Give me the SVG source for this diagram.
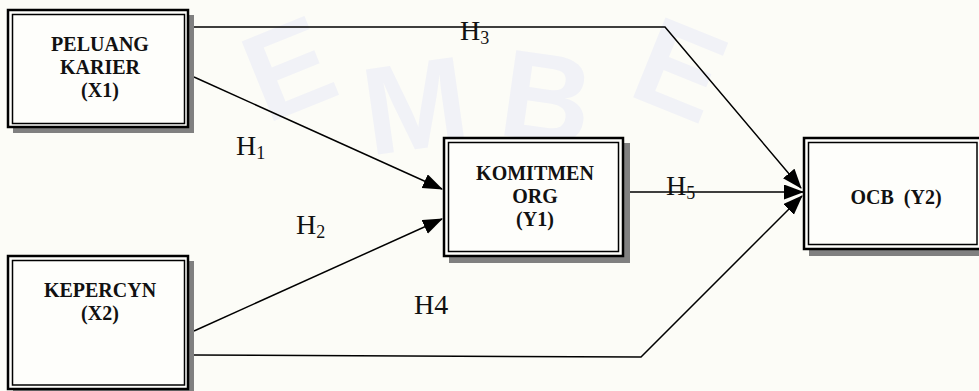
<svg xmlns="http://www.w3.org/2000/svg" width="979" height="391" viewBox="0 0 979 391">
  <style>
    .shadow { fill: #808080; stroke: none; }
    .outer { fill: #fefefb; stroke: #000; stroke-width: 2.5; }
    .inner { fill: none; stroke: #000; stroke-width: 1.5; }
    .lbl { font-family: "Liberation Serif", "Times New Roman", serif; font-weight: bold; font-size: 20px; fill: #111; text-anchor: middle; }
    .h { font-family: "Liberation Serif", "Times New Roman", serif; font-size: 28px; fill: #111; }
    .sub { font-size: 18px; }
    .conn { fill: none; stroke: #000; stroke-width: 1.5; marker-end: url(#arrow); }
    .wm { font-family: "Liberation Sans", Arial, sans-serif; font-weight: bold; font-size: 125px; fill: #f1f2f7; text-anchor: middle; }
  </style>
  <defs>
    <marker id="arrow" markerUnits="userSpaceOnUse" markerWidth="20" markerHeight="16" refX="19" refY="7.5" orient="auto">
      <path d="M0,0 L20,7.5 L0,15 z" fill="#000"/>
    </marker>
  </defs>

  <rect x="0" y="0" width="979" height="391" fill="#fcfcf7"/>

  <g id="watermark">
    <text class="wm" x="288" y="112" transform="rotate(-22 288 67)">E</text>
    <text class="wm" x="415" y="149" transform="rotate(-8 415 104)">M</text>
    <text class="wm" x="547" y="141" transform="rotate(8 547 96)">B</text>
    <text class="wm" x="681" y="113" transform="rotate(22 681 68)">E</text>
  </g>

  <g id="connectors">
    <polyline class="conn" points="194,27 665,27 801,188"/>
    <line class="conn" x1="194" y1="77" x2="442" y2="189"/>
    <line class="conn" x1="194" y1="331" x2="442" y2="219"/>
    <line class="conn" x1="630" y1="192" x2="803" y2="192"/>
    <polyline class="conn" points="194,355 641,357 802,196"/>
  </g>

  <g id="node-x1">
    <rect class="shadow" x="13" y="15" width="181" height="118"/>
    <rect class="outer" x="8" y="10" width="180" height="117"/>
    <rect class="inner" x="12.5" y="14.5" width="172" height="109"/>
    <text class="lbl" x="100" y="51">PELUANG</text>
    <text class="lbl" x="100" y="74">KARIER</text>
    <text class="lbl" x="100" y="97">(X1)</text>
  </g>

  <g id="node-x2">
    <rect class="shadow" x="13" y="261" width="181" height="135"/>
    <rect class="outer" x="8" y="256" width="180" height="133"/>
    <rect class="inner" x="12.5" y="260.5" width="172" height="124.5"/>
    <text class="lbl" x="100" y="297">KEPERCYN</text>
    <text class="lbl" x="100" y="320">(X2)</text>
  </g>

  <g id="node-y1">
    <rect class="shadow" x="449" y="143" width="181" height="120"/>
    <rect class="outer" x="444" y="138" width="179" height="118"/>
    <rect class="inner" x="448.5" y="142.5" width="170" height="109"/>
    <text class="lbl" x="535" y="180">KOMITMEN</text>
    <text class="lbl" x="535" y="203">ORG</text>
    <text class="lbl" x="535" y="226">(Y1)</text>
  </g>

  <g id="node-y2">
    <rect class="shadow" x="809" y="143" width="180" height="113"/>
    <rect class="outer" x="804" y="138" width="180" height="111"/>
    <rect class="inner" x="808.5" y="142.5" width="168.5" height="102"/>
    <text class="lbl" x="896" y="204" style="white-space:pre">OCB  (Y2)</text>
  </g>

  <g id="labels">
    <text class="h" x="236" y="155">H<tspan class="sub" dy="4">1</tspan></text>
    <text class="h" x="296" y="234">H<tspan class="sub" dy="4">2</tspan></text>
    <text class="h" x="460" y="40">H<tspan class="sub" dy="4">3</tspan></text>
    <text class="h" x="414" y="314">H4</text>
    <text class="h" x="666" y="195">H<tspan class="sub" dy="4">5</tspan></text>
  </g>
</svg>
